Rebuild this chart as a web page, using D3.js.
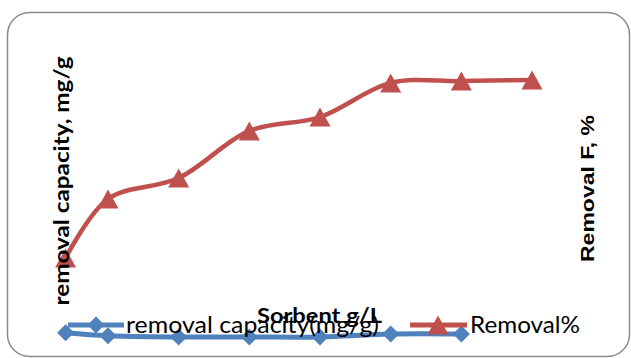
<!DOCTYPE html>
<html><head><meta charset="utf-8">
<script src="https://cdn.jsdelivr.net/npm/d3@7"></script>
<style>html,body{margin:0;padding:0;background:#fff;}svg{display:block;}</style>
</head><body>
<svg id="c" width="631" height="358"></svg>
<script>
// Data
const sorbentRemoval = [0.4, 1, 2, 3, 4, 5, 6, 7];
const removalPct = [26.3, 46, 53, 68.7, 73.3, 84.7, 85.3, 85.7];
const sorbentCapacity = [0.4, 1, 2, 3, 4, 5, 6];
const removalCapacity = [0.7, 0.2, 0, 0, 0, 0.5, 0.5];
const seriesNames = ["removal capacity(mg/g)", "Removal%"];
const xTitle = "Sorbent g/L";
const yTitleLeft = "removal capacity, mg/g";
const yTitleRight = "Removal F, %";

const svg = d3.select("#c");
const blue = "#4F81BD", red = "#C0504D";

svg.append("rect").attr("x", 7.5).attr("y", 12.5).attr("width", 622).attr("height", 344)
  .attr("rx", 22).attr("ry", 22).attr("fill", "#fff").attr("stroke", "#8a8a8a").attr("stroke-width", 1.5);

const x = d3.scaleLinear().domain([0, 8]).range([37.33, 602.7]);
const yL = d3.scaleLinear().domain([0, 50]).range([337, 37]);
const yR = d3.scaleLinear().domain([0, 100]).range([337, 37]);

const tri = "M0,-9.5L10.5,9.5L-10.5,9.5Z";
const dia = "M0,-8.5L8.5,0L0,8.5L-8.5,0Z";

// Red series
const redPts = sorbentRemoval.map((s, i) => [x(s), yR(removalPct[i])]);
svg.append("path").attr("d", d3.line().curve(d3.curveCatmullRom)(redPts))
  .attr("fill", "none").attr("stroke", red).attr("stroke-width", 4.5).attr("stroke-linecap", "round");
svg.selectAll(".tm").data(redPts).join("path").attr("class", "tm")
  .attr("transform", d => `translate(${d[0]},${d[1]})`).attr("d", tri).attr("fill", red);

// Blue series
const bluePts = sorbentCapacity.map((s, i) => [x(s), yL(removalCapacity[i])]);
svg.append("path").attr("d", d3.line().curve(d3.curveCatmullRom)(bluePts))
  .attr("fill", "none").attr("stroke", blue).attr("stroke-width", 5).attr("stroke-linecap", "round");
svg.selectAll(".dm").data(bluePts).join("path").attr("class", "dm")
  .attr("transform", d => `translate(${d[0]},${d[1]})`).attr("d", dia).attr("fill", blue);

// Axis titles
svg.append("text").attr("transform", "translate(61,181) rotate(-90)")
  .attr("text-anchor", "middle").attr("dominant-baseline", "central")
  .attr("font-family", "Lato, 'Open Sans', sans-serif").attr("font-weight", "bold").attr("font-size", 20)
  .attr("textLength", 249).attr("lengthAdjust", "spacingAndGlyphs").text(yTitleLeft);
svg.append("text").attr("transform", "translate(587,188.5) rotate(-90)")
  .attr("text-anchor", "middle").attr("dominant-baseline", "central")
  .attr("font-family", "'Liberation Sans', Arial, sans-serif").attr("font-weight", "bold").attr("font-size", 19)
  .attr("textLength", 147).attr("lengthAdjust", "spacingAndGlyphs").text(yTitleRight);

// Legend
svg.append("line").attr("x1", 68).attr("x2", 124).attr("y1", 325).attr("y2", 325)
  .attr("stroke", blue).attr("stroke-width", 5);
svg.append("path").attr("transform", "translate(96,325)").attr("d", dia).attr("fill", blue);
svg.append("text").attr("x", 126).attr("y", 333)
  .attr("font-family", "Lato, 'Open Sans', sans-serif").attr("font-size", 23)
  .attr("textLength", 253).attr("lengthAdjust", "spacingAndGlyphs").attr("fill", "#000").text(seriesNames[0]);
svg.append("line").attr("x1", 410).attr("x2", 467).attr("y1", 325).attr("y2", 325)
  .attr("stroke", red).attr("stroke-width", 5);
svg.append("path").attr("transform", "translate(438,325)").attr("d", tri).attr("fill", red);
svg.append("text").attr("x", 470).attr("y", 333)
  .attr("font-family", "Lato, 'Open Sans', sans-serif").attr("font-size", 23)
  .attr("textLength", 110).attr("lengthAdjust", "spacingAndGlyphs").attr("fill", "#000").text(seriesNames[1]);

// X title
svg.append("text").attr("x", 319.5).attr("y", 323).attr("text-anchor", "middle")
  .attr("font-family", "Lato, 'Open Sans', sans-serif").attr("font-weight", "bold").attr("font-size", 20)
  .attr("textLength", 125).attr("lengthAdjust", "spacingAndGlyphs").text(xTitle);
</script>
</body></html>
